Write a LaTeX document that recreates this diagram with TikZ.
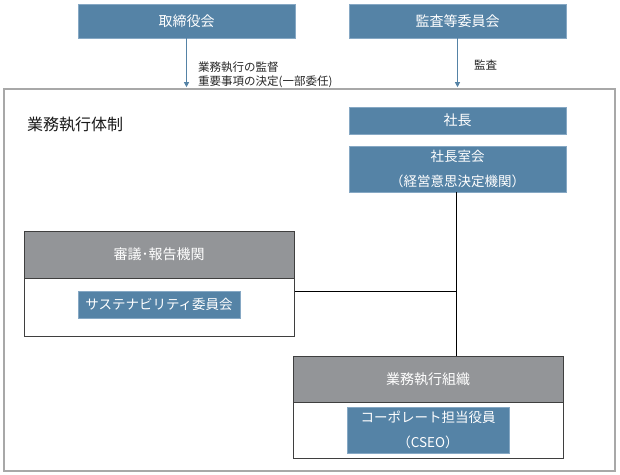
\documentclass[tikz,border=0pt]{standalone}
\usepackage{fontspec}
\setmainfont{Noto Sans CJK JP}
\usetikzlibrary{arrows.meta,calc}
\definecolor{boxblue}{HTML}{5583A6}
\definecolor{boxblueedge}{HTML}{86A8C4}
\definecolor{hdrgray}{HTML}{939598}
\definecolor{edgedark}{HTML}{3F3F3F}
\definecolor{outergray}{HTML}{A8A8A8}
\tikzset{
  bluebox/.style={rectangle, fill=boxblue, draw=boxblueedge, line width=0.8pt, text=white, inner sep=0pt, align=center, font=\fontsize{13.5}{25}\selectfont},
  grayhdr/.style={rectangle, fill=hdrgray, draw=edgedark, line width=1pt, text=white, inner sep=0pt, font=\fontsize{14}{16}\selectfont},
  whitebody/.style={rectangle, fill=white, draw=edgedark, line width=1pt, inner sep=0pt},
  outerbox/.style={rectangle, draw=outergray, line width=1.6pt, inner sep=0pt},
  bluearrow/.style={draw=boxblue, line width=1pt, -{Triangle[width=5pt,length=5pt]}},
  conn/.style={draw=black, line width=1pt},
  lbl/.style={inner sep=0pt, align=left, text=black!85, font=\fontsize{11.5}{14}\selectfont}
}
\begin{document}
\begin{tikzpicture}[x=1pt,y=-1pt]
\useasboundingbox (0,0) rectangle (620,474);
% outer frame
\node[outerbox, minimum width=611pt, minimum height=382pt] (outer) at (309.5,280) {};
\node[inner sep=0pt, anchor=west, font=\fontsize{16}{18}\selectfont, text=black!90] (title) at (27,125) {業務執行体制};
% top boxes
\node[bluebox, minimum width=217pt, minimum height=34pt, font=\fontsize{14}{16}\selectfont] (tori) at (186.5,21) {取締役会};
\node[bluebox, minimum width=217pt, minimum height=34pt, font=\fontsize{14}{16}\selectfont] (kansa) at (457.5,21) {監査等委員会};
\coordinate (a1) at (tori.south |- outer.north);
\coordinate (a2) at (kansa.south |- outer.north);
\draw[bluearrow] (tori.south) -- ($(a1)+(0,-1)$);
\draw[bluearrow] (kansa.south) -- ($(a2)+(0,-1)$);
\node[lbl, anchor=west] (l1) at (198,75) {業務執行の監督\\重要事項の決定(一部委任)};
\node[lbl, anchor=west] (l2) at (474,65) {監査};
% president
\node[bluebox, minimum width=217pt, minimum height=27pt, font=\fontsize{14}{16}\selectfont] (shacho) at (457.5,120.5) {社長};
\node[bluebox, minimum width=217pt, minimum height=46pt] (shitsu) at (457.5,169) {社長室会\\（経営意思決定機関）};
% left group
\node[grayhdr, minimum width=270pt, minimum height=47pt] (shingi) at (159,254.5) {審議･報告機関};
\node[whitebody, minimum width=270pt, minimum height=58pt] (shingib) at (159,307) {};
\node[bluebox, minimum width=162pt, minimum height=27pt] (sust) at (159,304.5) {サステナビリティ委員会};
% lower group
\node[grayhdr, minimum width=270pt, minimum height=46pt] (gyomu) at (428,379) {業務執行組織};
\node[whitebody, minimum width=270pt, minimum height=56pt] (gyomub) at (428,430) {};
\node[bluebox, minimum width=162pt, minimum height=46pt] (corp) at (428,430) {コーポレート担当役員\\（CSEO）};
% connectors
\coordinate (v) at (456,291);
\draw[conn] (456,192) coordinate (vtop) -- (vtop |- gyomu.north);
\draw[conn] (shingib.east |- v) -- (v);
\end{tikzpicture}
\end{document}
